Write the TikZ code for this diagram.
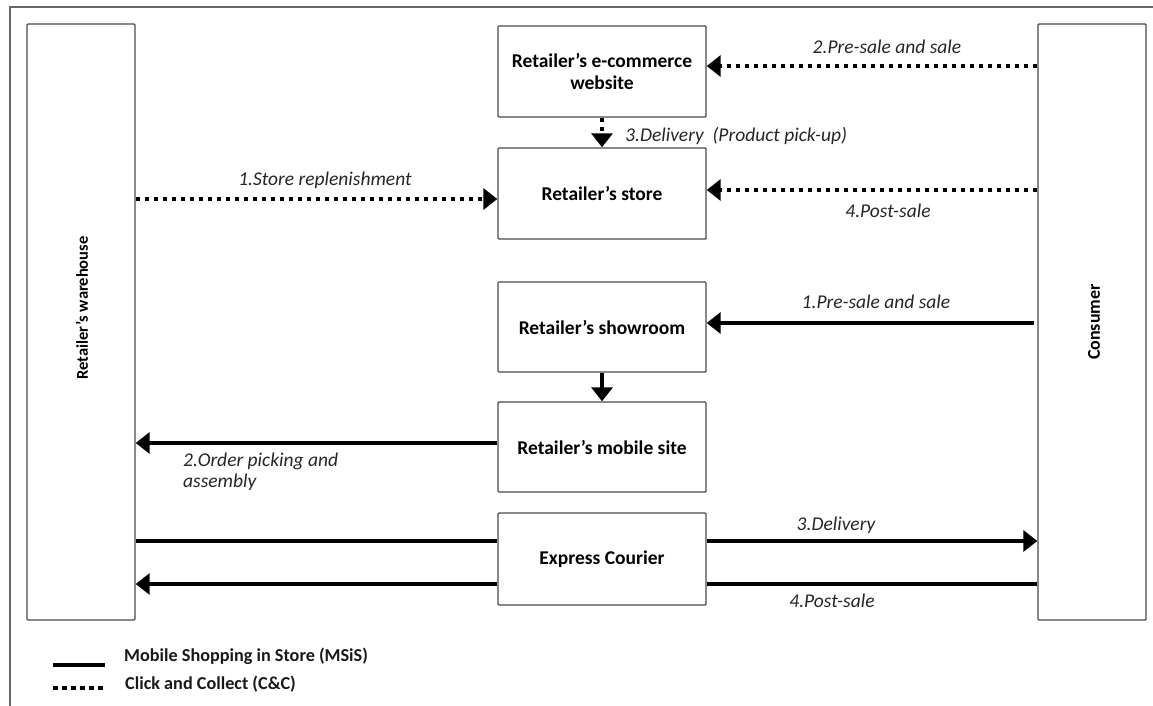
\documentclass[tikz,border=0pt]{standalone}
\usepackage{fontspec}
\setmainfont{Carlito}
\usetikzlibrary{arrows.meta,calc}
\begin{document}
\begin{tikzpicture}[x=1pt,y=-1pt,
  box/.style={draw=black!70,line width=1.4pt,rounded corners=1pt,inner sep=0pt,
    font=\bfseries\fontsize{19.5}{22}\selectfont,align=center},
  boxtxt/.style={font=\bfseries\fontsize{18}{22}\selectfont,inner sep=0pt,align=center},
  lbl/.style={font=\itshape\fontsize{19.5}{21}\selectfont,text=black!85,inner sep=0pt,align=left},
  legtxt/.style={font=\bfseries\fontsize{18.2}{20}\selectfont,text=black!90,inner sep=0pt,anchor=west},
  solidln/.style={line width=4pt},
  dotln/.style={line width=4pt,dash pattern=on 4.5pt off 4.5pt},
  tip/.style={-{Triangle[length=14pt,width=21pt]}},
  frame/.style={draw=black!60,line width=1.8pt}
]
\useasboundingbox (0,0) rectangle (1153,706);
% outer frame (top and left edges)
\coordinate (fTL) at (10,7);
\coordinate (fTR) at (1153,7);
\coordinate (fBL) at (10,706);
\draw[frame] (fTR) -- (fTL) -- (fBL);

% boxes
\node[box,minimum width=108pt,minimum height=596pt] (wh) at (81,322) {};
\node[box,minimum width=108pt,minimum height=596pt] (cons) at (1092,322) {};
\node[boxtxt,rotate=90,font=\bfseries\fontsize{16.5}{18}\selectfont] (whtxt) at (82,308) {Retailer’s warehouse};
\node[boxtxt,rotate=90] (constxt) at (1094,322) {Consumer};

\node[box,minimum width=208pt,minimum height=91pt] (ecom) at (602,71.5) {Retailer’s e-commerce\\website};
\node[box,minimum width=208pt,minimum height=91pt] (store) at (602,193.5) {Retailer’s store};
\node[box,minimum width=208pt,minimum height=90pt] (show) at (602,327) {Retailer’s showroom};
\node[box,minimum width=208pt,minimum height=90pt] (mob) at (602,447) {Retailer’s mobile site};
\node[box,minimum width=208pt,minimum height=92pt] (cour) at (602,559) {Express Courier};

% y levels
\coordinate (y1) at (0,66);
\coordinate (y2) at (0,199);
\coordinate (y3) at (0,190);
\coordinate (y4) at (0,323);
\coordinate (y5) at (0,443);
\coordinate (y6) at (0,541);
\coordinate (y7) at (0,584);

% Click and Collect (dotted)
\draw[dotln,tip] (cons.west |- y1) -- (ecom.east |- y1);
\draw[dotln,tip] (ecom.south) -- (store.north);
\draw[dotln,tip] (wh.east |- y2) -- (store.west |- y2);
\draw[dotln,tip] (cons.west |- y3) -- (store.east |- y3);

% Mobile shopping in store (solid)
\coordinate (c1) at (1034,323);
\draw[solidln,tip] (c1) -- (show.east |- y4);
\draw[solidln,tip] (show.south) -- (mob.north);
\draw[solidln,tip] (mob.west |- y5) -- (wh.east |- y5);
\draw[solidln] (wh.east |- y6) -- (cour.west |- y6);
\draw[solidln,tip] (cour.east |- y6) -- (cons.west |- y6);
\draw[solidln] (cons.west |- y7) -- (cour.east |- y7);
\draw[solidln,tip] (cour.west |- y7) -- (wh.east |- y7);

% labels
\node[lbl] (l1) at (887,47) {2.Pre-sale and sale};
\node[lbl,anchor=west] (l2) at (625,136) {3.Delivery\ \ (Product pick-up)};
\node[lbl] (l3) at (325,180) {1.Store replenishment};
\node[lbl] (l4) at (888,211) {4.Post-sale};
\node[lbl] (l5) at (876,302) {1.Pre-sale and sale};
\node[lbl,anchor=north west] (l6) at (183,453) {2.Order picking and\\assembly};
\node[lbl] (l7) at (836,525) {3.Delivery};
\node[lbl] (l8) at (832,601) {4.Post-sale};

% legend
\coordinate (ls1) at (53,665);
\coordinate (le1) at (105,665);
\coordinate (ls2) at (53,688);
\coordinate (le2) at (105,688);
\draw[solidln] (ls1) -- (le1);
\draw[dotln] (ls2) -- (le2);
\node[legtxt] (lg1) at (124,656) {Mobile Shopping in Store (MSiS)};
\node[legtxt] (lg2) at (125,684) {Click and Collect (C\&C)};
\end{tikzpicture}
\end{document}
